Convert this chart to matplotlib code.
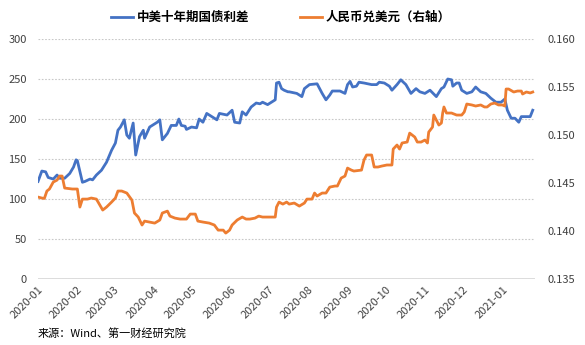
import matplotlib
matplotlib.use("Agg")
import matplotlib.pyplot as plt
import matplotlib.dates as mdates
import pandas as pd

plt.rcParams["font.family"] = ["Noto Sans CJK SC", "DejaVu Sans"]

spread_dates = [
    "2020-01-01", "2020-01-04", "2020-01-07", "2020-01-09", "2020-01-13", "2020-01-16",
    "2020-01-18", "2020-01-22", "2020-01-26", "2020-01-29", "2020-01-31", "2020-02-01",
    "2020-02-05", "2020-02-07", "2020-02-11", "2020-02-13", "2020-02-16", "2020-02-20",
    "2020-02-24", "2020-02-28", "2020-03-02", "2020-03-04", "2020-03-06", "2020-03-09",
    "2020-03-11", "2020-03-13", "2020-03-16", "2020-03-18", "2020-03-21", "2020-03-24",
    "2020-03-25", "2020-03-29", "2020-04-04", "2020-04-06", "2020-04-08", "2020-04-12",
    "2020-04-15", "2020-04-19", "2020-04-21", "2020-04-23", "2020-04-26", "2020-04-27",
    "2020-05-01", "2020-05-05", "2020-05-07", "2020-05-10", "2020-05-13", "2020-05-17",
    "2020-05-21", "2020-05-23", "2020-05-29", "2020-06-02", "2020-06-04", "2020-06-08",
    "2020-06-10", "2020-06-13", "2020-06-17", "2020-06-21", "2020-06-24", "2020-06-26",
    "2020-06-30", "2020-07-03", "2020-07-06", "2020-07-07", "2020-07-09", "2020-07-11",
    "2020-07-13", "2020-07-16", "2020-07-17", "2020-07-23", "2020-07-27", "2020-07-29",
    "2020-08-02", "2020-08-08", "2020-08-12", "2020-08-15", "2020-08-18", "2020-08-20",
    "2020-08-26", "2020-08-30", "2020-09-01", "2020-09-03", "2020-09-05", "2020-09-08",
    "2020-09-10", "2020-09-14", "2020-09-20", "2020-09-24", "2020-09-26", "2020-09-30",
    "2020-10-04", "2020-10-06", "2020-10-10", "2020-10-13", "2020-10-17", "2020-10-21",
    "2020-10-25", "2020-10-28", "2020-11-01", "2020-11-05", "2020-11-10", "2020-11-14",
    "2020-11-16", "2020-11-19", "2020-11-22", "2020-11-23", "2020-11-26", "2020-11-28",
    "2020-11-30", "2020-12-04", "2020-12-08", "2020-12-11", "2020-12-15", "2020-12-19",
    "2020-12-23", "2020-12-27", "2020-12-31", "2021-01-03", "2021-01-05", "2021-01-08",
    "2021-01-11", "2021-01-14", "2021-01-16", "2021-01-18", "2021-01-21", "2021-01-23",
    "2021-01-25",
]
spread_bp = [
    122, 135, 134, 127, 125, 130,
    126, 126, 132, 140, 149, 148,
    121, 122, 125, 124, 130, 136,
    146, 161, 170, 186, 190, 199,
    180, 176, 195, 155, 178, 186,
    176, 190, 196, 199, 174, 182,
    192, 192, 200, 192, 191, 187,
    190, 189, 200, 196, 207, 203,
    199, 207, 205, 211, 196, 195,
    209, 205, 215, 220, 219, 221,
    218, 221, 224, 245, 246, 238,
    236, 234, 234, 232, 228, 238,
    243, 244, 232, 224, 230, 235,
    235, 232, 243, 247, 240, 241,
    246, 245, 243, 243, 246, 245,
    241, 236, 243, 249, 243, 232,
    238, 234, 232, 236, 228, 238,
    240, 250, 249, 241, 245, 245,
    236, 232, 234, 240, 234, 232,
    226, 221, 221, 225, 211, 201,
    201, 196, 203, 203, 203, 203,
    211,
]

fx_dates = [
    "2020-01-01", "2020-01-04", "2020-01-06", "2020-01-08", "2020-01-10", "2020-01-13",
    "2020-01-16", "2020-01-18", "2020-01-20", "2020-01-22", "2020-01-28", "2020-02-01",
    "2020-02-03", "2020-02-05", "2020-02-09", "2020-02-12", "2020-02-16", "2020-02-21",
    "2020-02-24", "2020-02-28", "2020-03-02", "2020-03-04", "2020-03-07", "2020-03-11",
    "2020-03-15", "2020-03-17", "2020-03-20", "2020-03-23", "2020-03-25", "2020-03-29",
    "2020-04-02", "2020-04-06", "2020-04-08", "2020-04-12", "2020-04-14", "2020-04-18",
    "2020-04-22", "2020-04-27", "2020-04-30", "2020-05-04", "2020-05-06", "2020-05-10",
    "2020-05-15", "2020-05-19", "2020-05-22", "2020-05-26", "2020-05-28", "2020-05-31",
    "2020-06-02", "2020-06-06", "2020-06-10", "2020-06-13", "2020-06-16", "2020-06-20",
    "2020-06-23", "2020-06-26", "2020-07-06", "2020-07-07", "2020-07-09", "2020-07-12",
    "2020-07-15", "2020-07-17", "2020-07-21", "2020-07-25", "2020-07-29", "2020-07-31",
    "2020-08-04", "2020-08-06", "2020-08-08", "2020-08-12", "2020-08-15", "2020-08-18",
    "2020-08-22", "2020-08-24", "2020-08-27", "2020-08-30", "2020-09-01", "2020-09-04",
    "2020-09-06", "2020-09-12", "2020-09-14", "2020-09-16", "2020-09-20", "2020-09-22",
    "2020-09-25", "2020-09-28", "2020-10-02", "2020-10-06", "2020-10-07", "2020-10-10",
    "2020-10-12", "2020-10-14", "2020-10-18", "2020-10-20", "2020-10-22", "2020-10-24",
    "2020-10-26", "2020-10-29", "2020-11-01", "2020-11-03", "2020-11-04", "2020-11-07",
    "2020-11-08", "2020-11-10", "2020-11-12", "2020-11-14", "2020-11-15", "2020-11-16",
    "2020-11-18", "2020-11-22", "2020-11-26", "2020-11-30", "2020-12-02", "2020-12-04",
    "2020-12-08", "2020-12-11", "2020-12-15", "2020-12-18", "2020-12-20", "2020-12-23",
    "2020-12-26", "2020-12-29", "2021-01-01", "2021-01-03", "2021-01-04", "2021-01-06",
    "2021-01-10", "2021-01-13", "2021-01-16", "2021-01-17", "2021-01-20", "2021-01-23",
    "2021-01-25",
]
cny_usd = [
    0.14354, 0.14344, 0.14340, 0.14417, 0.14438, 0.14510,
    0.14531, 0.14573, 0.14573, 0.14448, 0.14438, 0.14438,
    0.14250, 0.14333, 0.14333, 0.14344, 0.14333, 0.14219,
    0.14250, 0.14302, 0.14344, 0.14417, 0.14417, 0.14396,
    0.14323, 0.14188, 0.14146, 0.14063, 0.14104, 0.14094,
    0.14083, 0.14115, 0.14188, 0.14208, 0.14156, 0.14135,
    0.14125, 0.14125, 0.14177, 0.14177, 0.14104, 0.14094,
    0.14083, 0.14063, 0.14010, 0.14010, 0.13979, 0.14010,
    0.14063, 0.14115, 0.14146, 0.14125, 0.14125, 0.14135,
    0.14156, 0.14146, 0.14146, 0.14250, 0.14302, 0.14281,
    0.14302, 0.14281, 0.14292, 0.14260, 0.14292, 0.14333,
    0.14333, 0.14396, 0.14365, 0.14396, 0.14396, 0.14458,
    0.14469, 0.14469, 0.14552, 0.14573, 0.14656, 0.14635,
    0.14625, 0.14635, 0.14740, 0.14792, 0.14792, 0.14667,
    0.14667, 0.14677, 0.14688, 0.14688, 0.14854, 0.14896,
    0.14854, 0.14917, 0.14927, 0.15020, 0.15000, 0.14979,
    0.14927, 0.14927, 0.14948, 0.14917, 0.15031, 0.15083,
    0.15208, 0.15156, 0.15104, 0.15125, 0.15229, 0.15292,
    0.15229, 0.15229, 0.15208, 0.15208, 0.15240, 0.15323,
    0.15313, 0.15302, 0.15313, 0.15292, 0.15292, 0.15323,
    0.15333, 0.15313, 0.15313, 0.15302, 0.15479, 0.15479,
    0.15448, 0.15458, 0.15458, 0.15427, 0.15448, 0.15438,
    0.15448,
]

left_ticks = [0, 50, 100, 150, 200, 250, 300]
right_ticks = [0.135, 0.140, 0.145, 0.150, 0.155, 0.160]
month_ticks = pd.date_range("2020-01-01", "2021-01-01", freq="MS")

BLUE = "#4472C4"
ORANGE = "#ED7D31"
TICK_COLOR = "#404040"

fig = plt.figure(figsize=(5.85, 3.45), dpi=100)
ax = fig.add_axes([0.065, 0.191, 0.85, 0.696])
ax2 = ax.twinx()

l1, = ax.plot(pd.to_datetime(spread_dates), spread_bp, color=BLUE, lw=2.0,
              label="中美十年期国债利差")
l2, = ax2.plot(pd.to_datetime(fx_dates), cny_usd, color=ORANGE, lw=2.0,
               label="人民币兑美元（右轴）")

ax.set_xlim(pd.Timestamp("2020-01-01"), pd.Timestamp("2021-01-27"))
ax.set_ylim(0, 300)
ax2.set_ylim(0.135, 0.160)
ax.set_yticks(left_ticks)
ax2.set_yticks(right_ticks)
ax2.set_yticklabels([f"{v:.3f}" for v in right_ticks])

ax.set_xticks(month_ticks)
ax.xaxis.set_major_formatter(mdates.DateFormatter("%Y-%m"))
for lbl in ax.get_xticklabels():
    lbl.set_rotation(45)
    lbl.set_ha("right")
    lbl.set_rotation_mode("anchor")
    lbl.set_color("#595959")
    lbl.set_fontsize(7.5)

ax.grid(axis="y", color="#c8c8c8", ls=(0, (1.5, 1.5)), lw=0.8)
ax.set_axisbelow(True)
for a in (ax, ax2):
    for s in a.spines.values():
        s.set_visible(False)
    a.tick_params(length=0, labelsize=8, colors=TICK_COLOR)
ax.tick_params(axis="y", pad=8)
ax2.tick_params(axis="y", pad=9)
ax.tick_params(axis="x", pad=4)
ax.axhline(0, color="#d9d9d9", lw=2.0, zorder=1)

fig.legend(handles=[l1, l2], loc="upper center", bbox_to_anchor=(0.48, 1.0),
           ncol=2, frameon=False, prop={"weight": "bold", "size": 9},
           handlelength=1.8, columnspacing=4.0, handletextpad=0.3)

fig.text(0.065, 0.025, "来源：Wind、第一财经研究院", fontsize=8, color="#000000")

fig.savefig("out.png", dpi=100)
